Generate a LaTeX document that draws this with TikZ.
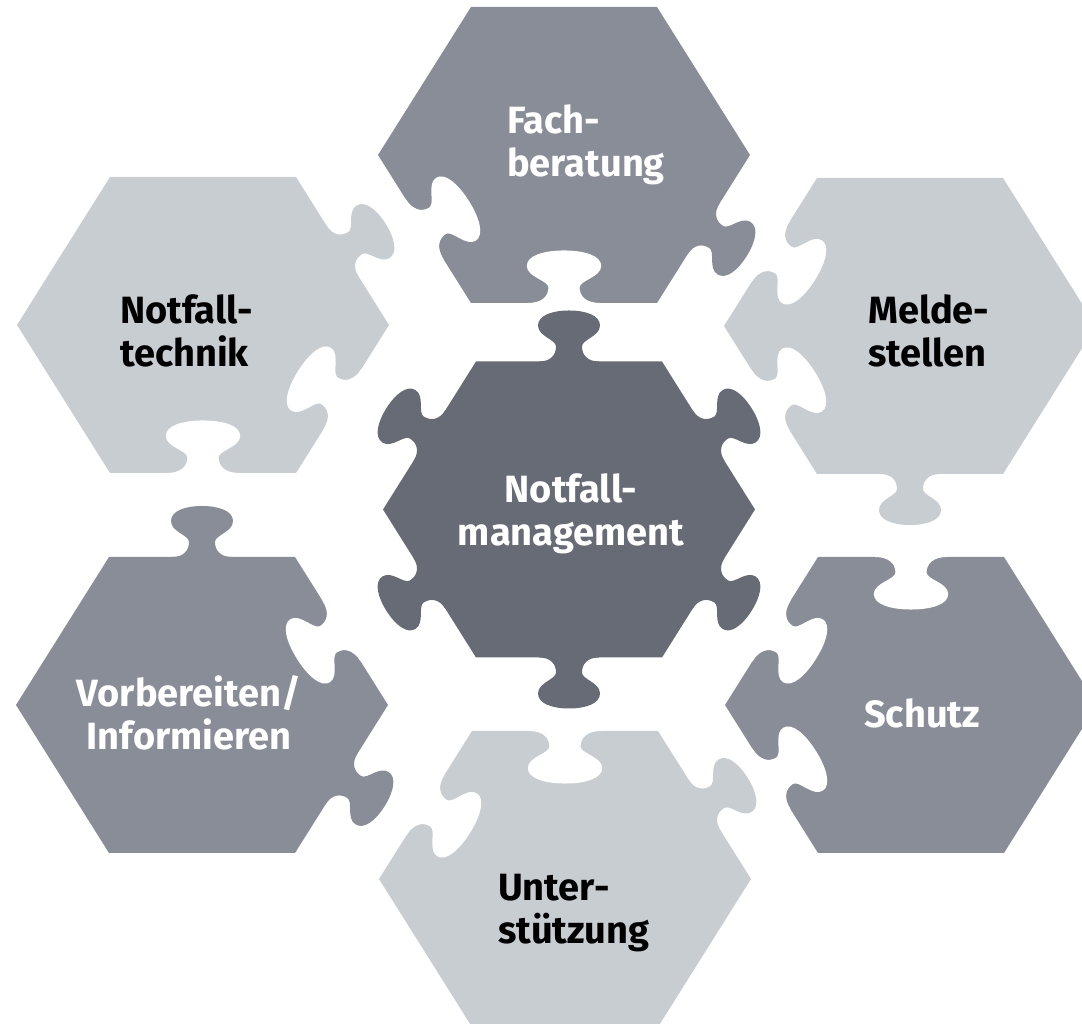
\documentclass[tikz,border=0pt]{standalone}
\usepackage{fontspec}
\setsansfont{Fira Sans}
\usepackage{xcolor}
\usepackage{tikz}

\definecolor{pieceDark}{HTML}{676B76}
\definecolor{pieceMid}{HTML}{898D98}
\definecolor{pieceLight}{HTML}{C8CDD1}

% puzzle tab, edge along x, pointing out along +y
\newcommand{\tabshape}{(-30,-2) -- (-30,0)
  .. controls (-18,0) and (-13,7) .. (-13,15)
  .. controls (-13,22) and (-31,25) .. (-31,36)
  .. controls (-31,46) and (-17,51) .. (0,51)
  .. controls (17,51) and (31,46) .. (31,36)
  .. controls (31,25) and (13,22) .. (13,15)
  .. controls (13,7) and (18,0) .. (30,0) -- (30,-2) -- cycle}

\tikzset{
  side N/.style={shift={(0,148)}},
  side NE/.style={shift={(139.5,74)}, rotate=-57.85},
  side NW/.style={shift={(-139.5,74)}, rotate=57.85},
  side S/.style={shift={(0,-148)}, rotate=180},
  side SE/.style={shift={(139.5,-74)}, rotate=-122.15},
  side SW/.style={shift={(-139.5,-74)}, rotate=122.15},
  knob/.style={},
  hole/.style={fill=white, xscale=1.2, yscale=-1.03},
  pics/piece/.style 2 args={code={
    \fill[#1] (186,0) -- (93,148) -- (-93,148) -- (-186,0) -- (-93,-148) -- (93,-148) -- cycle;
    \foreach \s/\k in {#2} {\fill[#1, side \s, \k] \tabshape;}
  }}
}

\begin{document}
\begin{tikzpicture}[
    x=1pt, y=1pt,
    piecetext/.style={font=\sffamily\bfseries\fontsize{38}{43}\selectfont, inner sep=0pt},
    darktext/.style={piecetext, text=white},
    lighttext/.style={piecetext, text=black}
]
    \clip (0,0) rectangle (1082,1024);

    % outer ring
    \pic at (564,869) {piece={pieceMid}{S/hole, SW/hole, SE/knob}};
    \pic at (910,698) {piece={pieceLight}{NW/hole, SW/hole, S/knob}};
    \pic at (911,319) {piece={pieceMid}{N/hole, NW/hole, SW/hole}};
    \pic at (565,145) {piece={pieceLight}{N/hole, NW/hole, NE/knob}};
    \pic at (202,319) {piece={pieceMid}{NE/hole, N/knob, SE/knob}};
    \pic at (203,699) {piece={pieceLight}{SE/hole, S/hole, NE/knob}};

    % middle piece
    \pic at (569,514.5) {piece={pieceDark}{N/knob, NE/knob, SE/knob, S/knob, SW/knob, NW/knob}};

    % texts
    \node[darktext, align=left, anchor=west] (fach) at (507,879) {Fach-\\beratung};
    \node[lighttext, align=left, anchor=west] (melde) at (868,693) {Melde-\\stellen};
    \node[darktext] (schutz) at (922,311) {Schutz};
    \node[lighttext, align=left, anchor=west] (unter) at (498,111) {Unter-\\stützung};
    \node[darktext, align=center] (vorb) at (189,311) {Vorbereiten/\\Informieren};
    \node[lighttext, align=left, anchor=west] (technik) at (120,693) {Notfall-\\technik};
    \node[darktext, align=center] (mgmt) at (571,510) {Notfall-\\management};

\end{tikzpicture}
\end{document}
